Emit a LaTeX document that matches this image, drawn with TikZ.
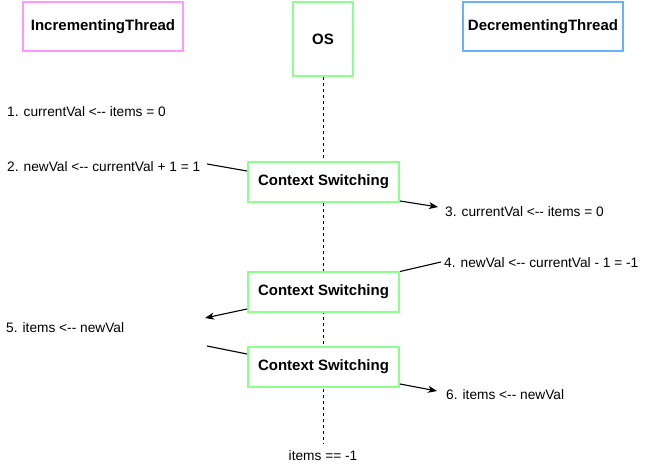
\documentclass[tikz,border=0pt]{standalone}
\usepackage{fontspec}
\setmainfont{Liberation Sans}[Ligatures=TeXOff]
\usetikzlibrary{arrows.meta,backgrounds}

\definecolor{incpink}{HTML}{FF99FF}
\definecolor{osgreen}{HTML}{8CFF8C}
\definecolor{decblue}{HTML}{66B2FF}

\tikzset{
	actor/.style={draw, line width=2pt, fill=white, inner sep=0pt,
		font=\fontsize{15}{18}\selectfont\bfseries},
	switchbox/.style={draw=osgreen, line width=2pt, fill=white, inner sep=0pt,
		minimum width=151pt, minimum height=40pt,
		font=\fontsize{15}{18}\selectfont\bfseries},
	stepnote/.style={anchor=west, inner sep=0pt, font=\fontsize{13.7}{16}\selectfont},
	msg/.style={line width=1.1pt, -{Stealth[length=9pt,width=7pt,inset=2.5pt]}},
	link/.style={line width=1.1pt}
}

\begin{document}
\begin{tikzpicture}[x=1pt, y=-1pt]
	\useasboundingbox (0,0) rectangle (646,472);
	
	% Threads and OS
	\node[actor, draw=incpink, minimum width=160pt, minimum height=49pt] (inc) at (103,26.5) {IncrementingThread};
	\node[actor, draw=osgreen, minimum width=60pt, minimum height=74pt] (os) at (323,39) {OS};
	\node[actor, draw=decblue, minimum width=160pt, minimum height=49pt] (dec) at (543,26.5) {DecrementingThread};
	
	% Context switches on the OS lifeline
	\node[switchbox] (cs1) at (323.5,182) {Context Switching};
	\node[switchbox] (cs2) at (323.5,291.5) {Context Switching};
	\node[switchbox] (cs3) at (323.5,367) {Context Switching};
	\node[stepnote, anchor=center, inner sep=7pt] (res) at (323,456) {items == -1};
	
	% Steps
	\node[stepnote] (s1) at (7,112) {1. currentVal <-- items = 0};
	\node[stepnote] (s2) at (7,167) {2. newVal <-- currentVal + 1 = 1};
	\node[stepnote] (s3) at (445,212) {3. currentVal <-- items = 0};
	\node[stepnote] (s4) at (444,263) {4. newVal <-- currentVal - 1 = -1};
	\node[stepnote] (s5) at (6,328) {5. items <-- newVal};
	\node[stepnote] (s6) at (446,395) {6. items <-- newVal};
	
	% Free ends
	\coordinate (in1) at (207,164);
	\coordinate (out1) at (438,207);
	\coordinate (in2) at (441,262);
	\coordinate (out2) at (205,318);
	\coordinate (in3) at (207,346);
	\coordinate (out3) at (437,391);
	
	% Lifeline
	\begin{scope}[on background layer]
		\draw[dash pattern=on 3pt off 3pt, line width=0.9pt] (os) -- (res);
	\end{scope}
	
	% Switching connectors
	\draw[link] (in1) -- ([yshift=11pt]cs1.west);
	\draw[msg] ([yshift=-19pt]cs1.east) -- (out1);
	\draw[link] ([yshift=20pt]cs2.east) -- (in2);
	\draw[msg] ([yshift=-17.5pt]cs2.west) -- (out2);
	\draw[link] (in3) -- ([yshift=13pt]cs3.west);
	\draw[msg] ([yshift=-17pt]cs3.east) -- (out3);
\end{tikzpicture}
\end{document}
